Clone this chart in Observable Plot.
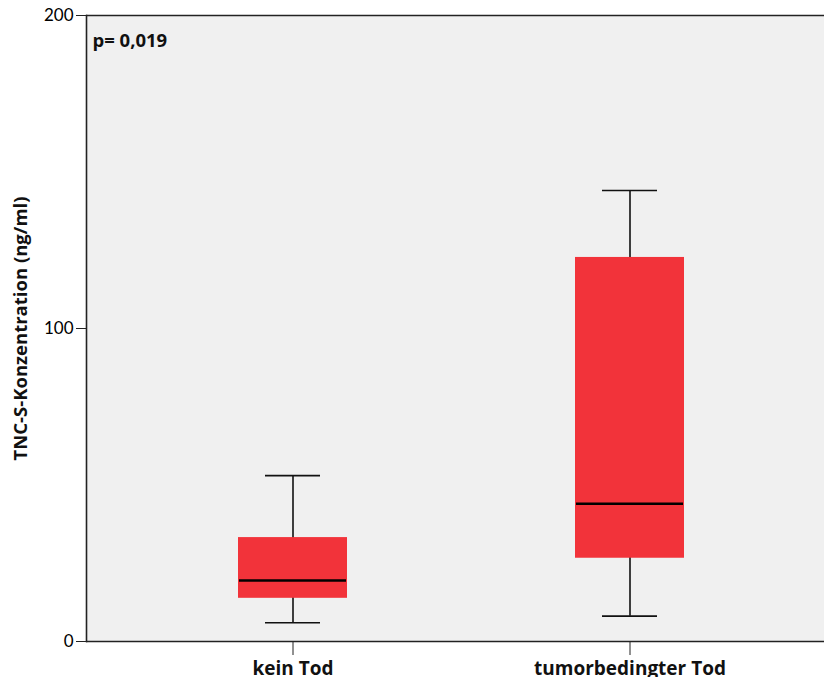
<!DOCTYPE html>
<html>
<head>
<meta charset="utf-8">
<script src="https://cdn.jsdelivr.net/npm/d3@7"></script>
<script src="https://cdn.jsdelivr.net/npm/@observablehq/plot@0.6"></script>
<style>
  html, body { margin: 0; padding: 0; background: #fff; overflow: hidden; }
  #chart svg { display: block; }
</style>
</head>
<body>
<div id="chart"></div>
<script>
const categories = ["kein Tod", "tumorbedingter Tod"];
const whiskerLow = [6.0, 8.1];
const q1 = [13.8, 26.6];
const median = [19.5, 44.0];
const q3 = [33.2, 122.7];
const whiskerHigh = [53.0, 144.1];
const yTicks = [0, 100, 200];
const pLabel = "p= 0,019";
const yLabel = "TNC-S-Konzentration (ng/ml)";

const rows = categories.map((c, i) => ({
  cat: c, low: whiskerLow[i], q1: q1[i], med: median[i], q3: q3[i], high: whiskerHigh[i]
}));

const font = "Lato, 'Open Sans', sans-serif";
const boldFont = "'Open Sans', Lato, sans-serif";

const chart = Plot.plot({
  width: 824,
  height: 677,
  marginTop: 15,
  marginBottom: 36,
  marginLeft: 86,
  marginRight: 0,
  style: { fontFamily: font, background: "#fff", overflow: "hidden" },
  x: { type: "band", domain: categories, range: [86, 835], paddingInner: 0.677, paddingOuter: 0.4496, align: 0.5 },
  y: { domain: [0, 200] },
  marks: [
    Plot.frame({ fill: "#f0f0f0", stroke: null }),
    Plot.ruleX(rows, { x: "cat", y1: "low", y2: "high", stroke: "#111", strokeWidth: 1.6 }),
    Plot.tickY(rows, { x: "cat", y: "low", stroke: "#111", strokeWidth: 1.6, insetLeft: 27, insetRight: 27 }),
    Plot.tickY(rows, { x: "cat", y: "high", stroke: "#111", strokeWidth: 1.6, insetLeft: 27, insetRight: 27 }),
    Plot.barY(rows, { x: "cat", y1: "q1", y2: "q3", fill: "#f2333a" }),
    Plot.tickY(rows, { x: "cat", y: "med", stroke: "#000", strokeWidth: 2.6, insetLeft: 1, insetRight: 1 }),
    Plot.ruleY([0], { stroke: "#222", strokeWidth: 1.6 }),
    Plot.ruleY([200], { stroke: "#222", strokeWidth: 1.6 }),
    Plot.frame({ anchor: "left", stroke: "#222", strokeWidth: 1.6 }),
    Plot.axisY({ ticks: yTicks, tickSize: 10, tickPadding: 3, fontSize: 17, label: null, stroke: "#222" }),
    Plot.axisX({ tickSize: 14, tickPadding: 6, fontSize: 19, fontWeight: "bold", fontFamily: boldFont, label: null, stroke: "#222", fill: "#111" }),
    Plot.text([yLabel], { frameAnchor: "left", dx: -65, rotate: -90, textAnchor: "middle", fontSize: 18.5, fontWeight: "bold", fontFamily: boldFont, fill: "#111", style: "letter-spacing: 0.5px" }),
    Plot.text([pLabel], { frameAnchor: "top-left", dx: 6, dy: 18, fontSize: 18.5, fontWeight: "bold", fontFamily: boldFont, fill: "#111", textAnchor: "start" })
  ]
});
document.getElementById("chart").append(chart);
</script>
</body>
</html>
